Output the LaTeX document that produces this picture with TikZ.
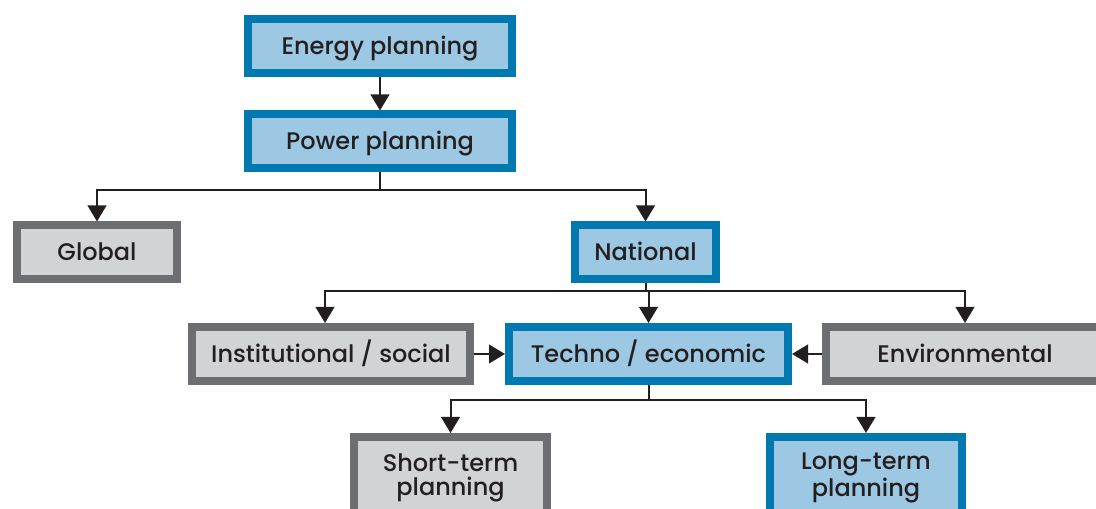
\documentclass[tikz,border=0pt]{standalone}
\usepackage{fontspec}
\setmainfont{Poppins}[UprightFont={* Medium}]
\usetikzlibrary{arrows.meta}

\definecolor{boxblue}{HTML}{0079B0}
\definecolor{fillblue}{HTML}{9DC8E3}
\definecolor{boxgrey}{HTML}{6D6E71}
\definecolor{fillgrey}{HTML}{D1D3D4}
\definecolor{ink}{HTML}{231F20}

\begin{document}
\begin{tikzpicture}[
    x=0.75pt, y=-0.75pt,
    every node/.style={
        align=center, font=\fontsize{18}{18}\selectfont, text=ink,
        line width=6pt, minimum height=40.5pt, inner sep=0pt
    },
    bluebox/.style={draw=boxblue, fill=fillblue},
    greybox/.style={draw=boxgrey, fill=fillgrey},
    oneline/.style={text height=14pt, text depth=1.4pt},
    arr/.style={
        draw=ink, line width=1.5pt,
        -{Triangle[width=14pt,length=12pt]}
    }
]
    \useasboundingbox (0,0) rectangle (1096,509);
    \clip (0,0) rectangle (1096,509);

    % top of the tree
    \node (energy) [bluebox,oneline,minimum width=198pt] at (380,46) {Energy planning};
    \node (power) [bluebox,oneline,minimum width=198pt] at (380,141.5) {Power planning};

    % scope
    \node (global) [greybox,oneline,minimum width=120pt] at (97,252.5) {Global};
    \node (national) [bluebox,oneline,minimum width=105.75pt] at (645.5,252.5) {National};

    % dimensions
    \node (institutional) [greybox,oneline,minimum width=208.5pt] at (331,354) {Institutional / social};
    \node (techno) [bluebox,oneline,minimum width=209.25pt] at (648.5,354) {Techno / economic};
    \node (environmental) [greybox,oneline,minimum width=208.5pt] at (965,354) {Environmental};

    % horizons
    \node (short) [greybox,minimum width=144.75pt,minimum height=61.5pt]
        at (450.5,478) {Short-term\\planning};
    \node (long) [bluebox,minimum width=144pt,minimum height=61.5pt]
        at (866,478) {Long-term\\planning};

    \draw [arr] (energy) -- (power);

    \draw [arr] (power.south) -- ++(0,18) -| (global.north);
    \draw [arr] (power.south) -- ++(0,18) -| (national.north);

    \draw [arr] (national.south) -- ++(0,8) -| ([xshift=-4.5pt]institutional.north);
    \draw [arr] (national.south) -- ++(0,8) -| (techno.north);
    \draw [arr] (national.south) -- ++(0,8) -| (environmental.north);

    \draw [arr] (institutional) -- (techno);
    \draw [arr] (environmental) -- (techno);

    \draw [arr] (techno.south) -- ++(0,15) -| (short.north);
    \draw [arr] (techno.south) -- ++(0,15) -| (long.north);

\end{tikzpicture}
\end{document}
